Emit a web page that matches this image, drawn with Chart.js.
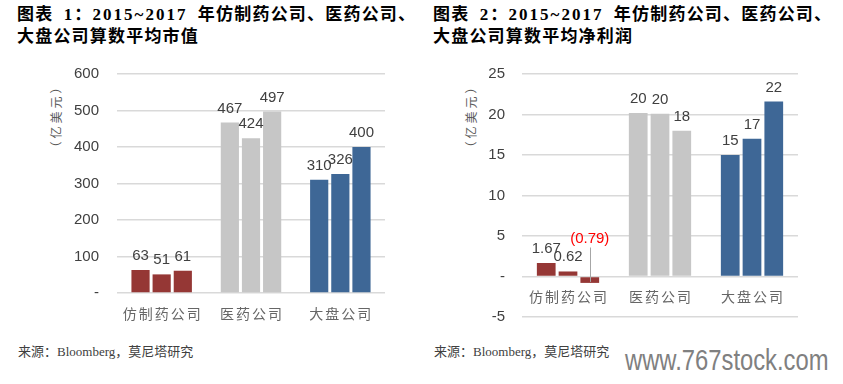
<!DOCTYPE html>
<html>
<head>
<meta charset="utf-8">
<script src="https://cdn.jsdelivr.net/npm/chart.js@4"></script>
<style>
  body { margin: 0; background: #fff; width: 843px; height: 384px; overflow: hidden; position: relative; }
  .title { position: absolute; top: 4px; font: bold 17px "Liberation Serif", "Noto Sans CJK SC", serif; line-height: 22px; letter-spacing: 1.2px; word-spacing: 5px; color: #000; white-space: nowrap; }
  .title .num { letter-spacing: 2px; }
  .source { position: absolute; top: 344px; font: 13px "Liberation Serif", "Noto Sans CJK SC", serif; line-height: 16px; color: #404040; white-space: nowrap; }
  .unit { position: absolute; top: 116px; font: 12px "Noto Sans CJK SC", sans-serif; letter-spacing: 3px; color: #595959; white-space: nowrap; transform: translate(-50%, -50%) rotate(-90deg); }
  .box { position: absolute; top: 60px; height: 280px; }
  .mark { position: absolute; left: 625px; top: 346px; font: 29px "Liberation Sans", Arial, sans-serif; line-height: 29px; color: #808080; white-space: nowrap; transform: scaleX(0.82); transform-origin: left top; }
</style>
</head>
<body>
<div class="title" style="left:17px">图表 <span class="num">1</span>：<span class="num">2015~2017</span> 年仿制药公司、医药公司、<br>大盘公司算数平均市值</div>
<div class="title" style="left:433px">图表 <span class="num">2</span>：<span class="num">2015~2017</span> 年仿制药公司、医药公司、<br>大盘公司算数平均净利润</div>
<div class="unit" style="left:55px">（亿美元）</div>
<div class="unit" style="left:470px">（亿美元）</div>
<div class="box" style="left:0;width:420px"><canvas id="capChart" width="420" height="280"></canvas></div>
<div class="box" style="left:420px;width:423px"><canvas id="profitChart" width="423" height="280"></canvas></div>
<div class="source" style="left:18px">来源：Bloomberg，莫尼塔研究</div>
<div class="source" style="left:434px">来源：Bloomberg，莫尼塔研究</div>
<div class="mark">www.767stock.com</div>

<script>
// categories and years
const categories = ["仿制药公司", "医药公司", "大盘公司"];
const years = ["2015", "2016", "2017"];
const barColors = ["#953735", "#c6c6c6", "#3e6796"];

// average market cap (亿美元)
const cap2015 = [63, 467, 310];
const cap2016 = [51, 424, 326];
const cap2017 = [61, 497, 400];
const capTicks = [0, 100, 200, 300, 400, 500, 600];

// average net profit (亿美元)
const profit2015 = [1.67, 20.2, 15.0];
const profit2016 = [0.62, 20.1, 17.0];
const profit2017 = [-0.79, 18.0, 21.6];
const profitTicks = [-5, 0, 5, 10, 15, 20, 25];

function makeLabels(format, catOffset) {
    return {
        id: "labels",
        afterDatasetsDraw(chart) {
            let ctx = chart.ctx;
            let zero = chart.scales.y.getPixelForValue(0);
            ctx.save();
            ctx.font = '15px "Liberation Sans", Arial, sans-serif';
            ctx.textAlign = "center";
            ctx.textBaseline = "alphabetic";
            chart.data.datasets.forEach((ds, i) => {
                chart.getDatasetMeta(i).data.forEach((bar, j) => {
                    let v = ds.data[j];
                    let text = format(v);
                    if (v < 0) {
                        let ty = zero - 34;
                        ctx.fillStyle = "#ff0000";
                        ctx.fillText(text, bar.x, ty);
                        ctx.strokeStyle = "#a6a6a6";
                        ctx.lineWidth = 1;
                        ctx.beginPath();
                        ctx.moveTo(Math.round(bar.x) + 0.5, ty + 5);
                        ctx.lineTo(Math.round(bar.x) + 0.5, bar.y - 1);
                        ctx.stroke();
                    } else {
                        ctx.fillStyle = "#404040";
                        ctx.fillText(text, bar.x, bar.y - 10);
                    }
                });
            });
            // category names sit just under the zero line
            ctx.font = '14px "Noto Sans CJK SC", sans-serif';
            ctx.letterSpacing = "2px";
            ctx.fillStyle = "#666666";
            ctx.textBaseline = "middle";
            chart.data.labels.forEach((lab, i) => {
                ctx.fillText(lab, chart.scales.x.getPixelForValue(i) + 1, zero + catOffset);
            });
            ctx.restore();
        }
    };
}

function buildDatasets(series) {
    return series.map((data, i) => ({
        label: years[i],
        data: data,
        backgroundColor: barColors,
        barPercentage: 0.86,
        categoryPercentage: 0.71
    }));
}

function buildChart(id, series, ticks, yWidth, labelRight, xHeight, padding, format, catOffset) {
    return new Chart(document.getElementById(id), {
        type: "bar",
        data: {
            labels: categories,
            datasets: buildDatasets(series)
        },
        options: {
            responsive: false,
            animation: false,
            devicePixelRatio: 1,
            layout: { padding: padding },
            plugins: { legend: { display: false }, tooltip: { enabled: false } },
            scales: {
                x: {
                    grid: { display: false },
                    border: { display: false },
                    ticks: { display: false },
                    afterFit: s => { s.height = xHeight; }
                },
                y: {
                    min: ticks[0],
                    max: ticks[ticks.length - 1],
                    afterBuildTicks: s => { s.ticks = ticks.map(v => ({ value: v })); },
                    afterFit: s => {
                        s.width = yWidth;
                        s.paddingTop = 0;
                        s.paddingBottom = 0;
                    },
                    border: { display: false },
                    grid: { color: "#d9d9d9", lineWidth: 1.5, drawTicks: false },
                    ticks: {
                        padding: yWidth - labelRight,
                        color: "#404040",
                        font: { family: '"Liberation Sans", Arial, sans-serif', size: 15 },
                        callback: v => v === 0 ? "-" : v
                    }
                }
            }
        },
        plugins: [makeLabels(format, catOffset)]
    });
}

buildChart("capChart", [cap2015, cap2016, cap2017], capTicks, 117, 99, 47,
    { left: 0, right: 35, top: 14, bottom: 0 },
    v => String(Math.round(v)), 21);

buildChart("profitChart", [profit2015, profit2016, profit2017], profitTicks, 102, 85, 23,
    { left: 0, right: 45, top: 14, bottom: 0 },
    v => {
        if (v < 0) return "(" + Math.abs(v).toFixed(2) + ")";
        if (v < 5) return v.toFixed(2);
        return String(Math.round(v));
    }, 20);
</script>
</body>
</html>
